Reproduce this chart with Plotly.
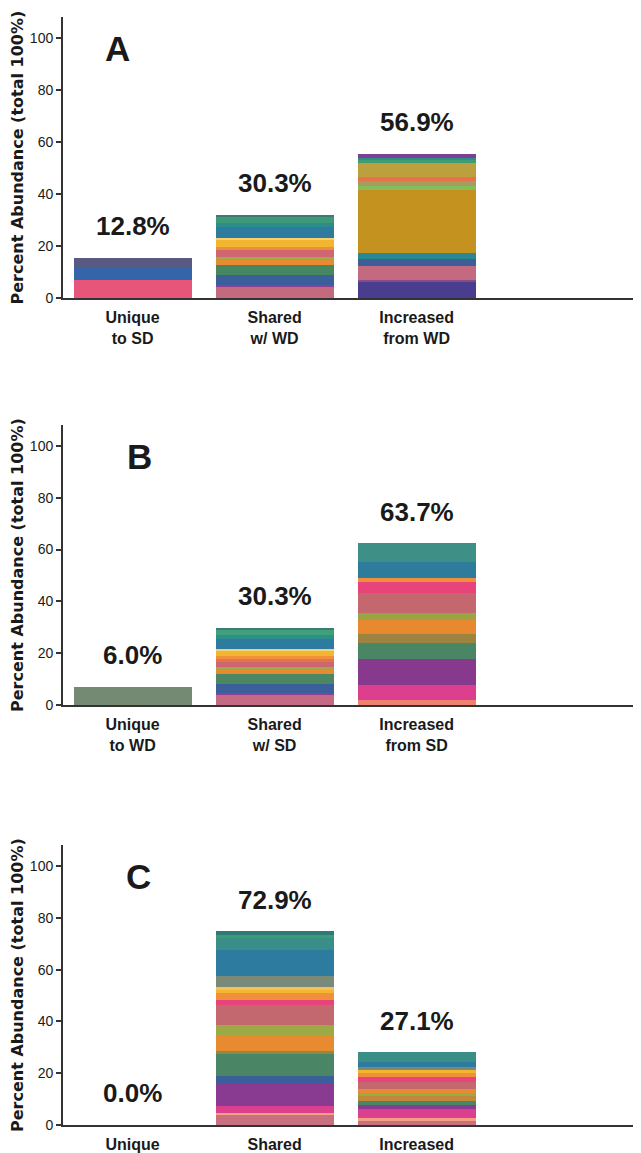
import plotly.graph_objects as go

# ---------------- data ----------------
A_categories = ["Unique<br>to SD", "Shared<br>w/ WD", "Increased<br>from WD"]
B_categories = ["Unique<br>to WD", "Shared<br>w/ SD", "Increased<br>from SD"]
C_categories = ["Unique", "Shared", "Increased"]

A_labels = ["12.8%", "30.3%", "56.9%"]
B_labels = ["6.0%", "30.3%", "63.7%"]
C_labels = ["0.0%", "72.9%", "27.1%"]

# stacked segment values, bottom -> top
A_unique_vals = [7.0, 4.5, 3.9]
A_shared_vals = [4.2, 0.6, 3.9, 3.9, 1.9, 1.3, 2.6, 1.3, 2.6, 0.6, 4.5, 1.3, 2.6, 0.6]
A_incr_vals = [6.0, 0.9, 5.5, 2.6, 2.2, 24.1, 1.9, 1.9, 1.5, 5.1, 1.5, 0.5, 1.8]

B_unique_vals = [7.0]
B_shared_vals = [4.1, 0.5, 3.5, 3.9, 1.3, 1.3, 1.9, 1.0, 1.3, 2.2, 0.6, 3.9, 1.3, 2.3, 0.5]
B_incr_vals = [1.9, 5.8, 9.9, 6.4, 3.3, 5.4, 2.6, 7.7, 4.5, 1.3, 6.4, 7.1]

C_unique_vals = [0.0]
C_shared_vals = [3.6, 0.9, 2.6, 9.0, 2.6, 8.6, 1.0, 6.4, 3.9, 7.7, 1.9, 2.6, 1.3, 0.9, 4.3, 10.3, 4.5, 1.3, 1.3]
C_incr_vals = [1.5, 1.0, 3.5, 1.7, 1.5, 1.9, 1.3, 1.3, 2.6, 2.2, 1.3, 1.3, 1.0, 1.9, 3.9]

# ---------------- styles ----------------
A_unique_cols = ["#E8557A", "#3465A8", "#585A82"]
A_shared_cols = ["#C46A7E", "#8B3F95", "#3A5F9A", "#468660", "#E88A30", "#9CAA48", "#CF6670",
                 "#EE8D3A", "#F2B531", "#F7D070", "#2D7C9E", "#2E8C8A", "#3D9A78", "#3D7A7A"]
A_incr_cols = ["#483D8F", "#8A4A8A", "#C46A80", "#3C5F97", "#2A8794", "#C4931F", "#86BC5A",
               "#A49E5C", "#E8704A", "#BDA03E", "#3E9B72", "#2F8E84", "#7B3F98"]
B_unique_cols = ["#748A72"]
B_shared_cols = ["#C46A82", "#8B3F95", "#3A5F9A", "#4A8762", "#E88A30", "#9EAA48", "#CC6670",
                 "#E8704A", "#F09038", "#F2B631", "#F5CF7A", "#2D7B9E", "#2E8E8C", "#3FA07A", "#3D7A7A"]
B_incr_cols = ["#F08070", "#DB3F8E", "#87398E", "#4A8666", "#9C8340", "#E8892F", "#9AA443",
               "#C4676E", "#E8437A", "#F0903A", "#2E7B9C", "#3E8F85"]
C_unique_cols = ["#FFFFFF"]
C_shared_cols = ["#C87080", "#F5A080", "#DB3F8E", "#883B90", "#3A5F9A", "#4A8666", "#8E8A40",
                 "#E88A30", "#9CAA45", "#C46870", "#E8437A", "#F0903A", "#F4B630", "#F2C060",
                 "#7A8A78", "#2D7B9E", "#3A8E88", "#3F9A78", "#2E7A78"]
C_incr_cols = ["#C87080", "#F5A080", "#DB3F8E", "#883B90", "#4A8666", "#C08A3A", "#9CAA45",
               "#E88A30", "#C46870", "#E8437A", "#F0903A", "#F4B630", "#7A8A78", "#2D7B9E", "#3A8E88"]

TXT = "Liberation Sans, Arial, sans-serif"
WIDE = "DejaVu Sans, Liberation Sans, Arial, sans-serif"
AXCOL = "#333333"
INK = "#1a1a1a"

panels = [
    ("A", A_categories, A_labels,
     [(A_unique_vals, A_unique_cols), (A_shared_vals, A_shared_cols), (A_incr_vals, A_incr_cols)],
     [0.7467, 0.9920], 0.095),
    ("B", B_categories, B_labels,
     [(B_unique_vals, B_unique_cols), (B_shared_vals, B_shared_cols), (B_incr_vals, B_incr_cols)],
     [0.3913, 0.6356], 0.133),
    ("C", C_categories, C_labels,
     [(C_unique_vals, C_unique_cols), (C_shared_vals, C_shared_cols), (C_incr_vals, C_incr_cols)],
     [0.0245, 0.2687], 0.130),
]

fig = go.Figure()
annotations = []
layout = {}
for i, (letter, cats, labels, bars, ydom, letter_x) in enumerate(panels):
    n = "" if i == 0 else str(i + 1)
    xa, ya = "x" + n, "y" + n
    for cat, (vals, cols) in zip(cats, bars):
        for v, c in zip(vals, cols):
            fig.add_trace(go.Bar(x=[cat], y=[v], marker=dict(color=c, line=dict(width=0)),
                                 width=0.83, xaxis=xa, yaxis=ya, showlegend=False,
                                 hoverinfo="skip"))
    for cat, lab, (vals, _) in zip(cats, labels, bars):
        annotations.append(dict(x=cat, y=sum(vals), xref=xa, yref=ya, text="<b>" + lab + "</b>",
                                showarrow=False, yanchor="middle", yshift=32,
                                font=dict(family=TXT, size=26, color=INK)))
    annotations.append(dict(x=letter_x, y=96, xref=xa + " domain", yref=ya,
                            text="<b>" + letter + "</b>",
                            showarrow=False, xanchor="center", yanchor="middle",
                            font=dict(family=TXT, size=35, color=INK)))
    layout["xaxis" + n] = dict(domain=[0.0869, 1.0], anchor=ya, type="category",
                               categoryorder="array", categoryarray=cats,
                               range=[-0.49, 3.58], showline=True, linecolor=AXCOL,
                               linewidth=2, ticks="", showgrid=False, zeroline=False,
                               automargin=False, tickprefix="<b>", ticksuffix="</b>",
                               ticklabelstandoff=4,
                               tickfont=dict(family=TXT, size=16, color=INK))
    layout["yaxis" + n] = dict(domain=ydom, anchor=xa, range=[0, 108],
                               tickvals=[0, 20, 40, 60, 80, 100], showline=True,
                               linecolor=AXCOL, linewidth=2, ticks="outside", ticklen=5,
                               tickwidth=2, tickcolor=AXCOL, showgrid=False, zeroline=False,
                               automargin=False, tickprefix="<b>", ticksuffix="</b>",
                               tickfont=dict(family=TXT, size=14, color=INK),
                               title=dict(text="<b>Percent Abundance (total 100%)</b>",
                                          font=dict(family=WIDE, size=16, color=INK),
                                          standoff=6))

fig.update_layout(width=633, height=1145, margin=dict(l=0, r=0, t=0, b=0),
                  barmode="stack", bargap=0, plot_bgcolor="white", paper_bgcolor="white",
                  annotations=annotations, font=dict(family=TXT), **layout)
fig.write_html("out.html")
